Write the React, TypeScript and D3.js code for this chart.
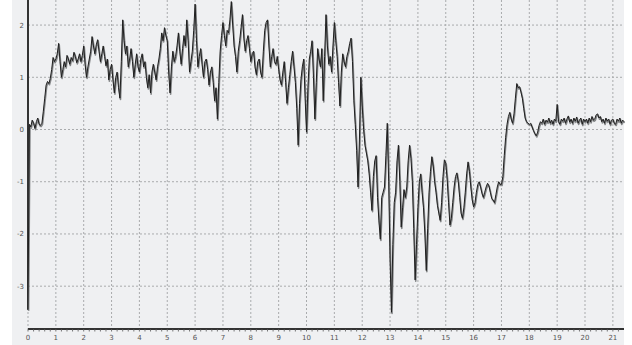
import { useMemo } from 'react';
import * as d3 from 'd3';

// sampled signal, one value every SAMPLE_STEP seconds starting at 0
const SAMPLE_STEP = 0.05;
const signal: number[] = [
  // 0 - 1
  -3.45, 0.1, 0.05, 0.18, 0.12, 0.02, 0.15, 0.22, 0.1, 0.08,
  0.12, 0.35, 0.6, 0.85, 0.92, 0.88, 0.98, 1.15, 1.38, 1.3,
  // 1 - 2
  1.35, 1.45, 1.65, 1.3, 1.0, 1.15, 1.3, 1.2, 1.42, 1.35,
  1.25, 1.38, 1.32, 1.48, 1.4, 1.28, 1.35, 1.45, 1.3, 1.42,
  // 2 - 3
  1.6, 1.25, 1.0, 1.2, 1.35, 1.5, 1.78, 1.6, 1.45, 1.62,
  1.72, 1.5, 1.3, 1.45, 1.6, 1.4, 1.22, 1.35, 0.95, 1.15,
  // 3 - 4
  1.25, 0.95, 0.7, 1.0, 1.1, 0.8, 0.6, 1.3, 2.1, 1.7,
  1.45, 1.6, 1.2, 1.35, 1.55, 1.3, 1.0, 1.25, 1.45, 1.2,
  // 4 - 5
  1.1, 1.35, 1.45, 1.2, 1.3, 1.0, 0.8, 1.05, 0.7, 1.1,
  1.25, 1.1, 0.95, 1.2, 1.35, 1.55, 1.85, 1.7, 1.95, 1.8,
  // 5 - 6
  1.7, 1.1, 0.7, 1.2, 1.5, 1.3, 1.4, 1.6, 1.85, 1.5,
  1.25, 1.55, 1.8, 1.6, 2.1, 1.7, 1.1, 1.3, 1.5, 1.9,
  // 6 - 7
  2.4, 1.7, 1.2, 1.4, 1.55, 1.25, 1.0, 1.3, 1.35, 1.15,
  0.85, 1.1, 1.2, 0.9, 0.55, 0.8, 0.2, 0.9, 1.5, 1.8,
  // 7 - 8
  2.05, 1.8, 1.6, 1.9, 1.85, 2.1, 2.45, 2.0, 1.6, 1.4,
  1.1, 1.5, 1.7, 1.95, 2.2, 1.75, 1.5, 1.7, 1.8, 1.55,
  // 8 - 9
  1.3, 1.45, 1.5, 1.2, 1.05, 1.3, 1.35, 1.1, 1.0, 1.5,
  1.9, 2.05, 2.1, 1.6, 1.2, 1.4, 1.55, 1.3, 1.25, 1.4,
  // 9 - 10
  1.15, 0.95, 0.85, 1.1, 1.3, 0.9, 0.5, 0.8, 1.05, 1.3,
  1.5, 1.2, 0.9, 0.4, -0.3, 0.5, 0.95, 1.2, 1.35, 0.6,
  // 10 - 11
  -0.05, 0.8, 1.35, 1.5, 1.7, 1.0, 0.2, 0.9, 1.55, 1.35,
  1.2, 1.55, 0.55, 1.4, 2.2, 1.6, 1.25, 1.4, 1.1, 1.6,
  // 11 - 12
  2.05, 1.7, 1.4, 0.9, 0.45, 1.1, 1.45, 1.3, 1.2, 1.4,
  1.5, 1.65, 1.75, 1.3, 0.55, 0.1, -0.4, -1.1, -0.2, 1.0,
  // 12 - 13
  0.45, 0.0, -0.3, -0.45, -0.6, -0.85, -1.2, -1.55, -0.9, -0.6,
  -0.5, -1.3, -1.75, -2.1, -1.3, -1.2, -1.1, -0.5, 0.12, -1.0,
  // 13 - 14
  -2.5, -3.5, -2.2, -1.4, -1.2, -0.6, -0.3, -1.0, -1.87, -1.5,
  -1.15, -1.3, -1.1, -0.6, -0.3, -0.55, -1.0, -1.9, -2.88, -2.2,
  // 14 - 15
  -1.5, -1.0, -0.85, -1.2, -1.5, -2.0, -2.7, -1.9, -1.2, -0.8,
  -0.52, -0.7, -1.0, -1.2, -1.45, -1.6, -1.74, -1.4, -0.9, -0.58,
  // 15 - 16
  -0.65, -0.95, -1.4, -1.83, -1.7, -1.4, -1.1, -0.9, -0.83, -1.0,
  -1.3, -1.6, -1.7, -1.5, -1.2, -0.85, -0.62, -0.8, -1.1, -1.35,
  // 16 - 17
  -1.48, -1.4, -1.2, -1.05, -1.0, -1.1, -1.22, -1.3, -1.2, -1.1,
  -1.03, -1.08, -1.2, -1.32, -1.35, -1.4, -1.25, -1.1, -1.0, -1.05,
  // 17 - 18
  -1.05, -0.9, -0.5, -0.15, 0.1, 0.25, 0.33, 0.2, 0.12, 0.3,
  0.6, 0.88, 0.8, 0.82, 0.72, 0.6, 0.4, 0.22, 0.15, 0.12,
  // 18 - 19
  0.1, 0.12, 0.05, -0.02, -0.08, -0.12, -0.05, 0.08, 0.15, 0.12,
  0.2, 0.1, 0.18, 0.14, 0.22, 0.12, 0.18, 0.1, 0.2, 0.16,
  // 19 - 20
  0.48, 0.15, 0.1, 0.2, 0.16, 0.22, 0.12, 0.2, 0.26, 0.14,
  0.2, 0.12, 0.22, 0.16, 0.24, 0.12, 0.18, 0.22, 0.1, 0.2,
  // 20 - 21
  0.15, 0.2, 0.12, 0.22, 0.15, 0.25, 0.18, 0.2, 0.28, 0.3,
  0.22, 0.25, 0.15, 0.2, 0.12, 0.22, 0.16, 0.2, 0.1, 0.18,
  // 21 - 21.4
  0.2, 0.12, 0.1, 0.2, 0.16, 0.22, 0.12, 0.18, 0.15,
];

const xTicks = d3.range(0, 22);
const yTicks = [2, 1, 0, -1, -2, -3];
const X_DOMAIN: [number, number] = [0, 21.4];
const Y_DOMAIN: [number, number] = [-3.82, 2.48];

const W = 632;
const H = 345;
const PANEL = { left: 12, right: 624 };
const PLOT = { left: 28, right: 624, top: 0, bottom: 329 };

const FONT = '"DejaVu Sans", Verdana, sans-serif';

export default function App() {
  const x = useMemo(() => d3.scaleLinear().domain(X_DOMAIN).range([PLOT.left, PLOT.right]), []);
  const y = useMemo(() => d3.scaleLinear().domain(Y_DOMAIN).range([PLOT.bottom, PLOT.top]), []);

  const path = useMemo(
    () =>
      d3
        .line<number>()
        .x((_d, i) => x(i * SAMPLE_STEP))
        .y((d) => y(d))(signal) ?? '',
    [x, y],
  );

  const minorTicks = d3.range(0, 21.4, 0.2);

  return (
    <div style={{ position: 'absolute', left: 0, top: 0, width: W, height: H, background: '#fff' }}>
      <svg width={W} height={H} viewBox={`0 0 ${W} ${H}`} style={{ display: 'block' }}>
        <rect x={PANEL.left} y={0} width={PANEL.right - PANEL.left} height={H} fill="#eff0f2" />

        {/* grid */}
        {xTicks.map((t) => (
          <line
            key={`gx${t}`}
            x1={x(t)}
            x2={x(t)}
            y1={PLOT.top}
            y2={PLOT.bottom}
            stroke="#a9abad"
            strokeWidth={1}
            strokeDasharray="2,2"
          />
        ))}
        {yTicks.map((t) => (
          <line
            key={`gy${t}`}
            x1={PLOT.left}
            x2={PLOT.right}
            y1={y(t)}
            y2={y(t)}
            stroke="#a9abad"
            strokeWidth={1}
            strokeDasharray="2,2"
          />
        ))}

        {/* y axis */}
        <line x1={PLOT.left} x2={PLOT.left} y1={PLOT.top} y2={y(-3.45)} stroke="#333" strokeWidth={2} />
        {yTicks.map((t) => (
          <text
            key={`ly${t}`}
            x={PLOT.left - 4}
            y={y(t)}
            dy="0.35em"
            textAnchor="end"
            fontFamily={FONT}
            fontSize={7}
            fill="#555"
          >
            {t}
          </text>
        ))}

        {/* signal: light trace under a dark trace */}
        <path
          d={path}
          fill="none"
          stroke="#858789"
          strokeWidth={1.6}
          strokeLinejoin="round"
          transform="translate(0.6,1.2)"
        />
        <path d={path} fill="none" stroke="#1f1f1f" strokeWidth={1} strokeLinejoin="round" />

        {/* x axis */}
        <line x1={PLOT.left} x2={PLOT.right} y1={PLOT.bottom} y2={PLOT.bottom} stroke="#333" strokeWidth={2} />
        {minorTicks.map((t, i) => (
          <line
            key={`mt${i}`}
            x1={x(t)}
            x2={x(t)}
            y1={PLOT.bottom}
            y2={PLOT.bottom + 2.5}
            stroke="#555"
            strokeWidth={0.8}
          />
        ))}
        {xTicks.map((t) => (
          <text
            key={`lx${t}`}
            x={x(t)}
            y={PLOT.bottom + 11}
            textAnchor="middle"
            fontFamily={FONT}
            fontSize={7}
            fill="#555"
          >
            {t}
          </text>
        ))}
      </svg>
    </div>
  );
}
